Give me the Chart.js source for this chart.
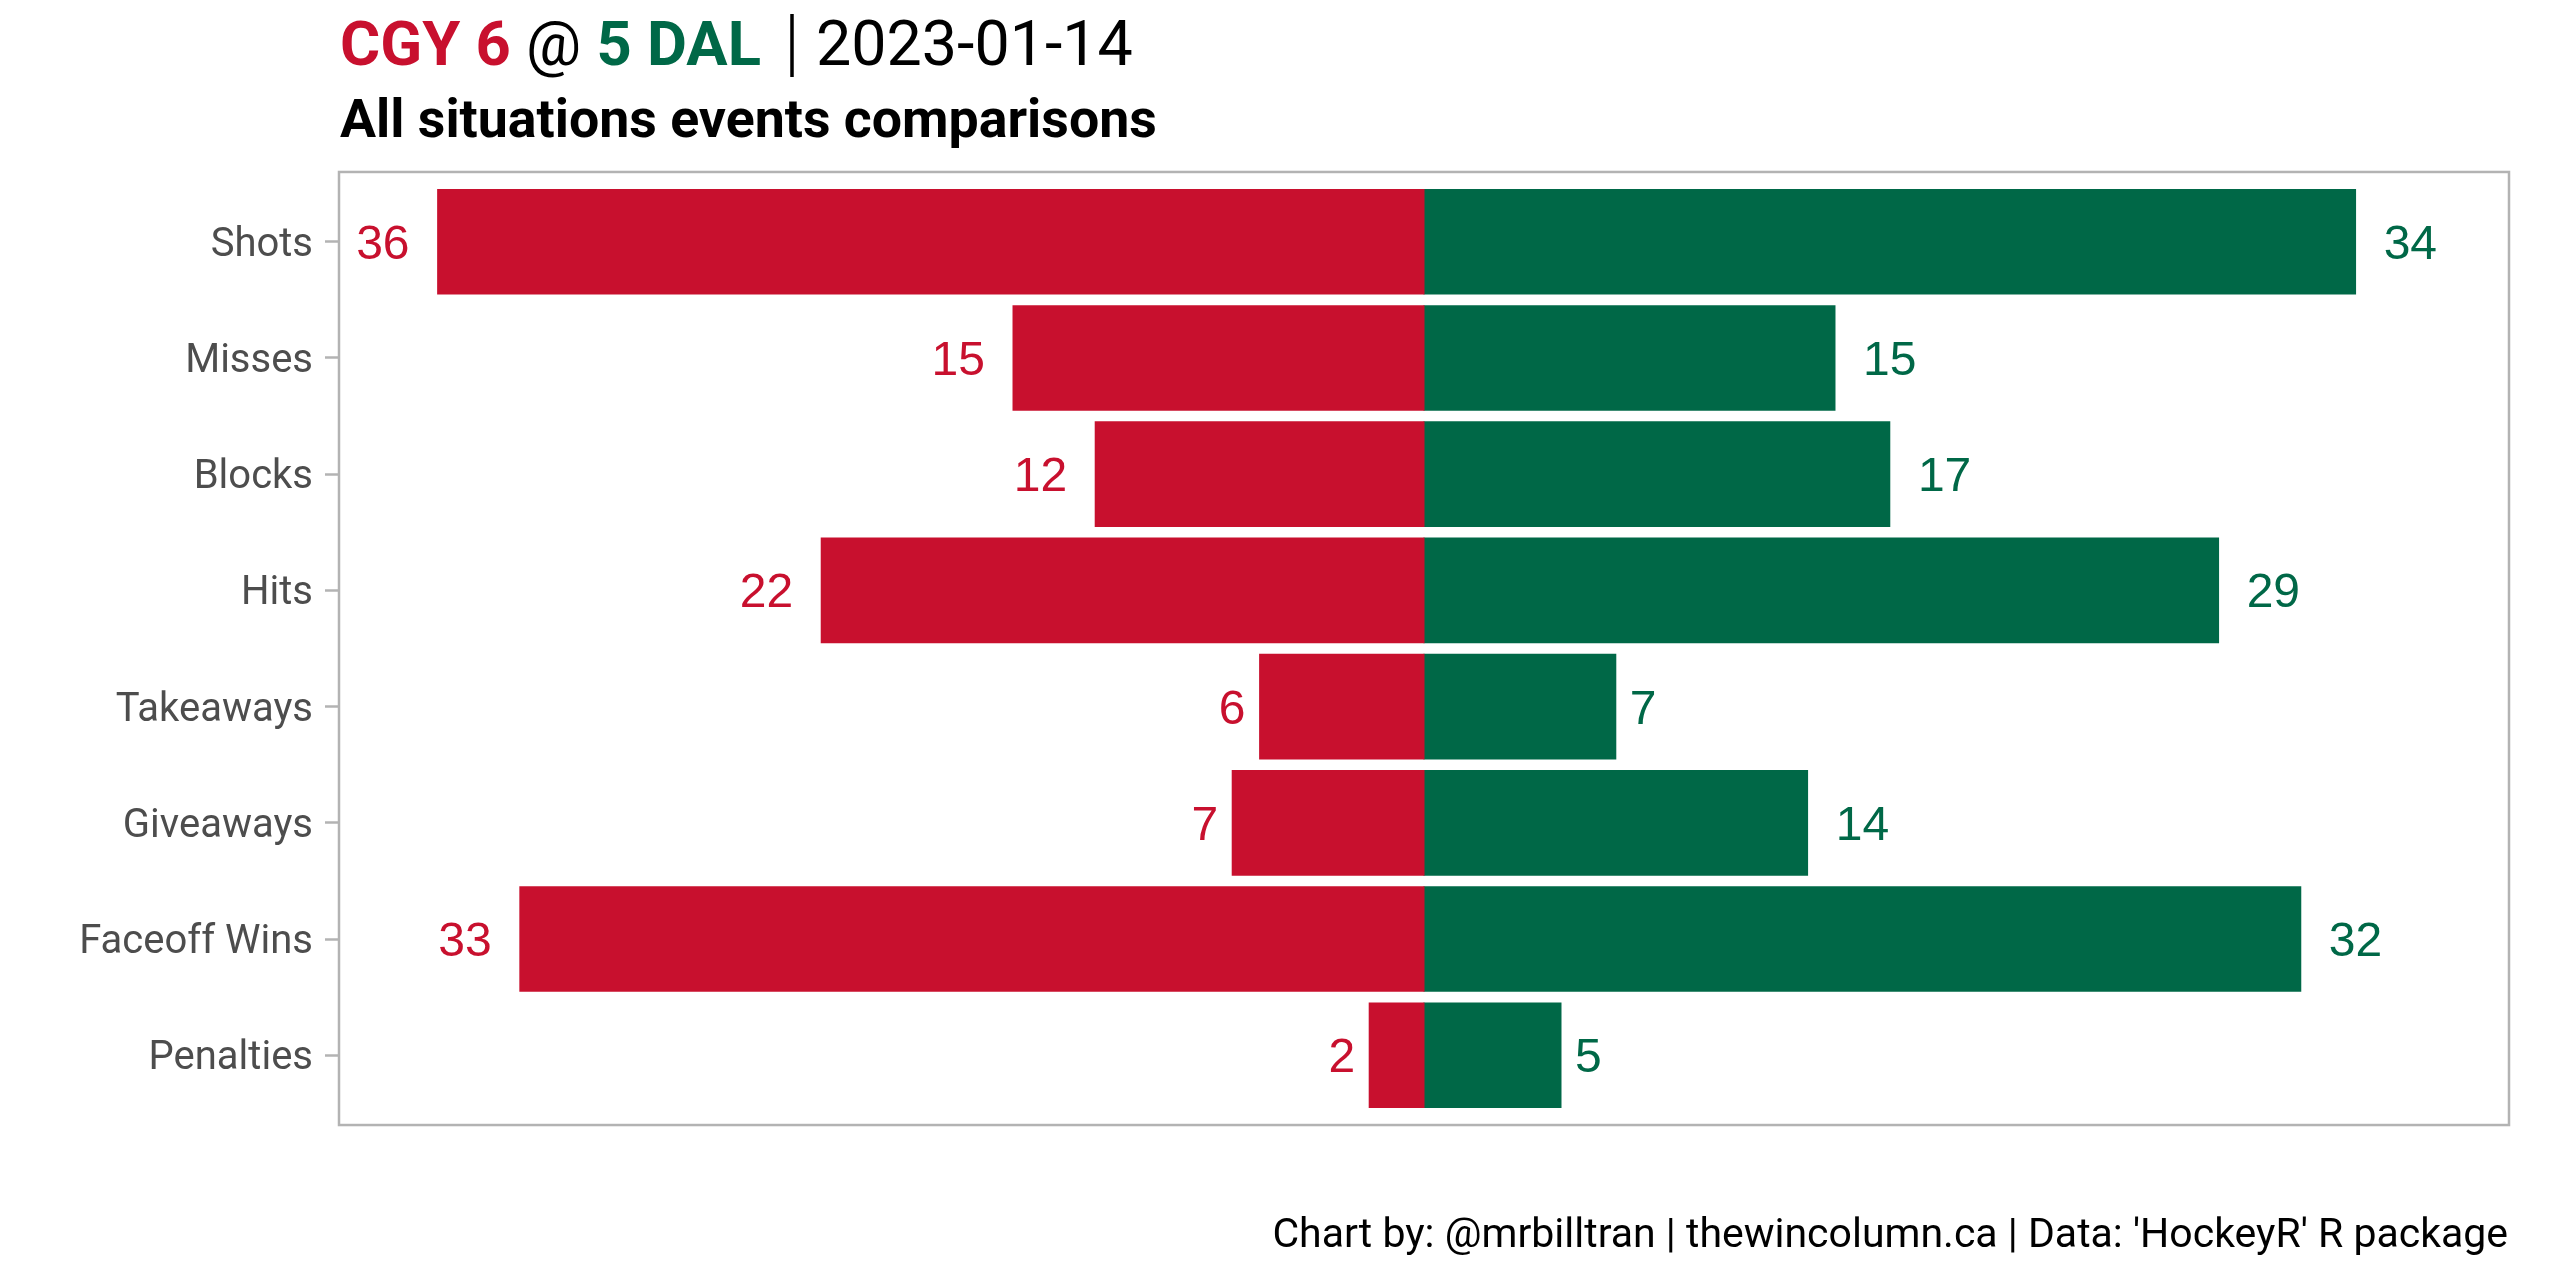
<!DOCTYPE html>
<html>
<head>
<meta charset="utf-8">
<script src="https://cdn.jsdelivr.net/npm/chart.js@4.4.1/dist/chart.umd.min.js"></script>
<style>
  html, body { margin: 0; padding: 0; background: #ffffff; }
  #wrap { width: 2560px; height: 1280px; position: relative; }
  canvas { display: block; }
</style>
</head>
<body>
<div id="wrap"><canvas id="c" width="2560" height="1280" style="width:2560px;height:1280px"></canvas></div>
<script>
// ---- data ----
const categories = ['Shots', 'Misses', 'Blocks', 'Hits', 'Takeaways', 'Giveaways', 'Faceoff Wins', 'Penalties'];
const cgyValues = [36, 15, 12, 22, 6, 7, 33, 2];
const dalValues = [34, 15, 17, 29, 7, 14, 32, 5];
const homeTeam = 'DAL', awayTeam = 'CGY';
const homeGoals = 5, awayGoals = 6;
const gameDate = '2023-01-14';
const subtitleText = 'All situations events comparisons';
const captionText = "Chart by: @mrbilltran | thewincolumn.ca | Data: 'HockeyR' R package";

const RED = '#C8102E';
const GREEN = '#006847';
const GRAY = '#b3b3b3';
const FAMILY = 'Roboto, "Open Sans", sans-serif';
const xLimit = Math.max(...cgyValues, ...dalValues) * 1.1;

function fitSize(ctx, segs, base, width) {
  let w = 0;
  segs.forEach(s => { ctx.font = `${s.weight} ${base}px ${FAMILY}`; w += ctx.measureText(s.text).width; });
  return base * width / w;
}
function drawSegs(ctx, segs, size, x, y) {
  ctx.textBaseline = 'alphabetic';
  ctx.textAlign = 'left';
  segs.forEach(s => {
    ctx.font = `${s.weight} ${size}px ${FAMILY}`;
    ctx.fillStyle = s.color;
    ctx.fillText(s.text, x, y);
    x += ctx.measureText(s.text).width;
  });
}

const bgPlugin = {
  id: 'bg',
  beforeDraw(chart) {
    const ctx = chart.ctx;
    ctx.save();
    ctx.fillStyle = '#ffffff';
    ctx.fillRect(0, 0, chart.width, chart.height);
    ctx.restore();
  }
};

const decoPlugin = {
  id: 'deco',
  afterDatasetsDraw(chart) {
    const ctx = chart.ctx;
    const xs = chart.scales.x, ys = chart.scales.y;
    ctx.save();
    // value labels
    ctx.font = `48px "Liberation Sans", Arial, sans-serif`;
    ctx.textAlign = 'center';
    ctx.textBaseline = 'alphabetic';
    categories.forEach((c, i) => {
      const y = ys.getPixelForValue(i) + 17;
      const a = cgyValues[i], h = dalValues[i];
      ctx.fillStyle = RED;
      ctx.fillText(String(a), xs.getPixelForValue(-(a + String(a).length)), y);
      ctx.fillStyle = GREEN;
      ctx.fillText(String(h), xs.getPixelForValue(h + String(h).length), y);
    });
    // panel border
    const unit = ys.getPixelForValue(1) - ys.getPixelForValue(0);
    const top = ys.getPixelForValue(0) - 0.6 * unit;
    const bottom = ys.getPixelForValue(categories.length - 1) + 0.6 * unit;
    ctx.strokeStyle = GRAY;
    ctx.lineWidth = 2.5;
    ctx.strokeRect(chart.chartArea.left, top, chart.chartArea.right - chart.chartArea.left, bottom - top);

    // title
    const segA = [
      { text: `${awayTeam} ${awayGoals}`, weight: 'bold', color: RED },
      { text: ' @ ', weight: 'normal', color: '#000000' },
      { text: `${homeGoals} ${homeTeam}`, weight: 'bold', color: GREEN }
    ];
    const sA = fitSize(ctx, segA, 58, 421);
    drawSegs(ctx, segA, sA, 340, 65);
    const segD = [{ text: gameDate, weight: 'normal', color: '#000000' }];
    const sD = fitSize(ctx, segD, 58, 317);
    drawSegs(ctx, segD, sD, 816, 65);
    // separator bar
    ctx.strokeStyle = '#000000';
    ctx.lineWidth = 3.5;
    ctx.beginPath();
    ctx.moveTo(792, 14);
    ctx.lineTo(792, 77);
    ctx.stroke();

    // subtitle
    const segS = [{ text: subtitleText, weight: 'bold', color: '#000000' }];
    const sS = fitSize(ctx, segS, 48, 817);
    drawSegs(ctx, segS, sS, 340, 137);

    // caption
    const segC = [{ text: captionText, weight: 'normal', color: '#000000' }];
    const sC = fitSize(ctx, segC, 38, 1236);
    ctx.font = `normal ${sC}px ${FAMILY}`;
    const wC = ctx.measureText(captionText).width;
    drawSegs(ctx, segC, sC, 2508 - wC, 1247);
    ctx.restore();
  }
};

function build() {
  new Chart(document.getElementById('c'), {
    type: 'bar',
    data: {
      labels: categories,
      datasets: [
        { label: awayTeam, data: cgyValues.map(v => -v), backgroundColor: RED, borderWidth: 0, inflateAmount: 0.5, barPercentage: 0.9, categoryPercentage: 1.0 },
        { label: homeTeam, data: dalValues, backgroundColor: GREEN, borderWidth: 0, inflateAmount: 0.5, barPercentage: 0.9, categoryPercentage: 1.0 }
      ]
    },
    options: {
      indexAxis: 'y',
      responsive: false,
      maintainAspectRatio: false,
      animation: false,
      devicePixelRatio: 1,
      layout: { padding: { left: 0, right: 51, top: 183.6, bottom: 166.6 } },
      plugins: { legend: { display: false }, tooltip: { enabled: false }, title: { display: false } },
      scales: {
        x: { type: 'linear', stacked: true, min: -xLimit, max: xLimit, display: false },
        y: {
          type: 'category', stacked: true, offset: true,
          grid: { display: true, drawOnChartArea: false, drawTicks: true, tickLength: 14, tickWidth: 2.5, tickColor: GRAY, offset: false },
          border: { display: false },
          ticks: { font: { family: FAMILY, size: 40 }, color: '#4d4d4d', padding: 12, labelOffset: 4 },
          afterFit(scale) { scale.width = 339; }
        }
      }
    },
    plugins: [bgPlugin, decoPlugin]
  });
}

const fontLoads = [
  document.fonts.load(`40px Roboto`),
  document.fonts.load(`bold 58px Roboto`),
  document.fonts.load(`48px "Liberation Sans"`)
];
Promise.all(fontLoads).then(build, build);
</script>
</body>
</html>
